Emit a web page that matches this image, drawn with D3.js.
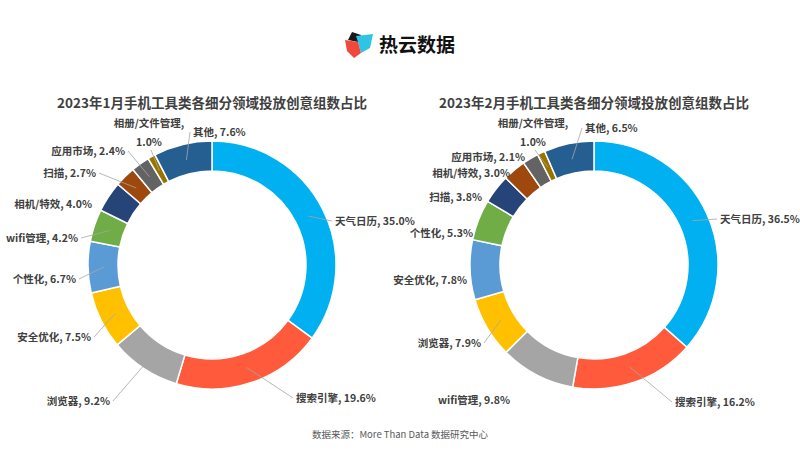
<!DOCTYPE html>
<html><head><meta charset="utf-8">
<script src="https://cdn.jsdelivr.net/npm/d3@7"></script>
<style>body{margin:0;background:#fff}svg{display:block;font-family:"Noto Sans CJK SC","Noto Sans",sans-serif}</style>
</head><body>
<svg id="c" width="800" height="450"></svg>
<script>
// ---- data ----
const titleJan = "2023年1月手机工具类各细分领域投放创意组数占比";
const titleFeb = "2023年2月手机工具类各细分领域投放创意组数占比";
const catsJan = ["天气日历","搜索引擎","浏览器","安全优化","个性化","wifi管理","相机/特效","扫描","应用市场","相册/文件管理","其他"];
const valsJan = [35.0,19.6,9.2,7.5,6.7,4.2,4.0,2.7,2.4,1.0,7.6];
const catsFeb = ["天气日历","搜索引擎","wifi管理","浏览器","安全优化","个性化","扫描","相机/特效","应用市场","相册/文件管理","其他"];
const valsFeb = [36.5,16.2,9.8,7.9,7.8,5.3,3.8,3.0,2.1,1.0,6.5];
const sourceText = "数据来源：More Than Data 数据研究中心";
const brand = "热云数据";

// ---- styles / layout ----
const palette = ["#00B0F0","#FF5A3C","#A5A5A5","#FFC000","#5B9BD5","#70AD47","#264478","#9E480E","#636363","#997300","#255E91"];
// label layout: [dx, dy, anchor, leader] relative to donut centre
const layoutJan = [[123,-44,"start",1],[84,133,"start",1],[-102,136,"end",1],[-121,72,"end",1],[-136,14,"end",1],[-134,-27,"end",1],[-120,-61,"end",0],[-116,-92,"end",1],[-87,-114,"end",1],[-63,-142,"middle",1],[-19,-133,"start",1]];
const layoutFeb = [[126,-46,"start",1],[81,137,"start",1],[-84,135,"end",0],[-113,78,"end",1],[-127,15,"end",0],[-121,-32,"end",0],[-112,-68,"end",0],[-84,-92,"end",0],[-69,-108,"end",0],[-61,-142,"middle",1],[-9,-137,"start",1]];
const labelSize = 10.5;

const svg = d3.select("#c");
const txtColor = "#404040";

// header
const logo = svg.append("g").attr("transform","translate(344,31)");
logo.append("path").attr("d","M8,1 L17,4 L14,11 L4,9 Z").attr("fill","#1a1a1a");
logo.append("path").attr("d","M12,5 L29,3 L26,17 L17,22 L14,11 Z").attr("fill","#2EC4E6");
logo.append("path").attr("d","M1,9 L14,11 L17,22 L10,27 L3,20 Z").attr("fill","#F0483C");
svg.append("text").attr("x",379).attr("y",52).attr("font-size",19).attr("font-weight","bold").attr("fill","#111").text(brand);

function donut(cx, cy, title, cats, vals, layout){
  const g = svg.append("g").attr("transform",`translate(${cx},${cy})`);
  svg.append("text").attr("x",cx).attr("y",108).attr("text-anchor","middle")
    .attr("font-size",13.5).attr("font-weight","bold").attr("fill",txtColor).text(title);
  const pie = d3.pie().sort(null).value(d=>d.v);
  const data = pie(cats.map((c,i)=>({c, v:vals[i], i})));
  const arc = d3.arc().innerRadius(94).outerRadius(124);
  const mid = d3.arc().innerRadius(108).outerRadius(108);
  g.selectAll("path.s").data(data).join("path").attr("class","s")
    .attr("d",arc).attr("fill",d=>palette[d.data.i]).attr("stroke","#fff").attr("stroke-width",1.5);
  data.forEach((d,i)=>{
    const [dx,dy,anchor,lead] = layout[i];
    const label = `${d.data.c}, ${d.data.v.toFixed(1)}%`;
    let t;
    if(anchor==="middle"){
      t = g.append("text").attr("text-anchor","middle").attr("font-size",labelSize).attr("font-weight","bold").attr("fill",txtColor);
      t.append("tspan").attr("x",dx).attr("y",dy+4).text(d.data.c+",");
      t.append("tspan").attr("x",dx).attr("y",dy+23).text(d.data.v.toFixed(1)+"%");
    } else {
      t = g.append("text").attr("x",dx).attr("y",dy+4).attr("text-anchor",anchor)
        .attr("font-size",labelSize).attr("font-weight","bold").attr("fill",txtColor).text(label);
    }
    if(lead){
      const [mx,my] = mid.centroid(d);
      let ax, ay;
      if(anchor==="middle"){ax=dx+2; ay=dy+27;}
      else if(anchor==="end"){ax=dx+3; ay=dy;}
      else {ax=dx-3; ay=dy;}
      g.insert("line","text").attr("x1",ax).attr("y1",ay).attr("x2",mx).attr("y2",my)
        .attr("stroke","#A6A6A6").attr("stroke-width",0.8);
    }
  });
}
donut(212,265,titleJan,catsJan,valsJan,layoutJan);
donut(594,265,titleFeb,catsFeb,valsFeb,layoutFeb);

svg.append("text").attr("x",400).attr("y",438).attr("text-anchor","middle")
  .attr("font-size",9.5).attr("fill","#595959").text(sourceText);
</script>
</body></html>
